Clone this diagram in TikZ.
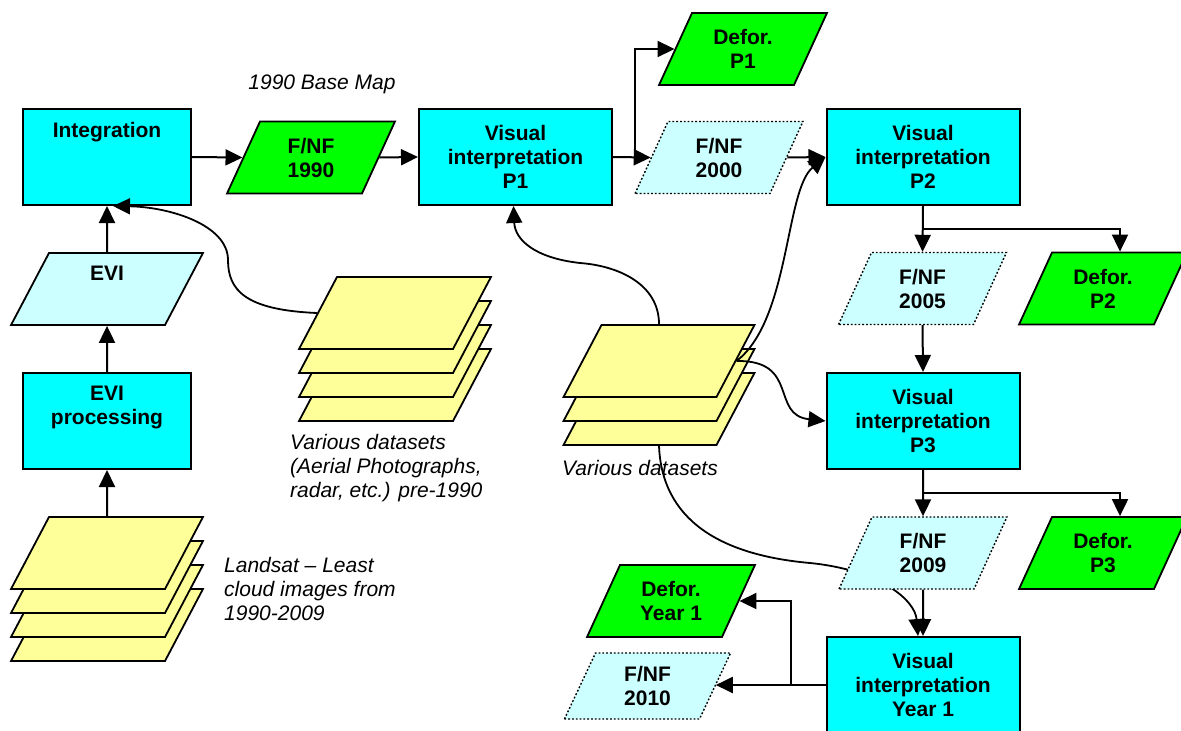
\documentclass[tikz,border=0pt]{standalone}
\usepackage{fontspec}
\setmainfont{Liberation Sans}
\usetikzlibrary{shapes.geometric,arrows.meta}
\definecolor{boxcyan}{HTML}{00FFFF}
\definecolor{fgreen}{HTML}{00FF00}
\definecolor{lcyan}{HTML}{CCFFFF}
\definecolor{lyellow}{HTML}{FFFF99}
\newcommand{\pgbox}[3]{\parbox[c][#2][c]{#1}{\centering\mbox{}#3}}
\begin{document}
\begin{tikzpicture}[x=1pt,y=-1pt,
 lbl/.style={font=\fontsize{21}{24}\selectfont\bfseries, align=center},
 proc/.style={lbl, draw=black, line width=2pt, fill=boxcyan, minimum width=193pt, minimum height=96pt, inner sep=0pt},
 para/.style={font=\fontsize{21}{24}\selectfont\bfseries, trapezium, trapezium left angle=65.4, trapezium right angle=114.6, inner sep=0pt, draw=black, line width=1.8pt},
 wide/.style={trapezium left angle=62.2, trapezium right angle=117.8},
 defor/.style={para, fill=fgreen},
 fnf/.style={para, fill=lcyan, dotted, line width=1.4pt},
 layer/.style={trapezium, wide, inner sep=0pt, draw=black, line width=1.8pt, fill=lyellow},
 note/.style={font=\fontsize{21}{24}\selectfont\itshape, align=left, inner sep=0pt},
 arr/.style={line width=2pt, -{Triangle[length=17pt,width=16pt]}},
 curve/.style={line width=1.8pt, -{Triangle[length=17pt,width=16pt]}},
]
\clip (0,0) rectangle (1181,731);
\fill[white] (0,0) rectangle (1181,731);

% process boxes
\node[proc, minimum width=168pt] (integ) at (107,157) {Integration\\\strut\\\strut};
\node[proc, minimum width=168pt] (evip) at (107,421) {EVI\\processing\\\strut};
\node[proc] (vp1) at (515.5,157) {Visual\\interpretation\\P1};
\node[proc] (vp2) at (923,157) {Visual\\interpretation\\P2};
\node[proc] (vp3) at (923,421) {Visual\\interpretation\\P3};
\node[proc] (vpy1) at (923,685) {Visual\\interpretation\\Year 1};

% data stacks
\node[layer] (land4) at (107,625) {\pgbox{116pt}{72pt}{}};
\node[layer] (land3) at (107,601) {\pgbox{116pt}{72pt}{}};
\node[layer] (land2) at (107,577) {\pgbox{116pt}{72pt}{}};
\node[layer] (land1) at (107,553) {\pgbox{116pt}{72pt}{}};
\node[layer] (pre4) at (395,385) {\pgbox{116pt}{72pt}{}};
\node[layer] (pre3) at (395,361) {\pgbox{116pt}{72pt}{}};
\node[layer] (pre2) at (395,337) {\pgbox{116pt}{72pt}{}};
\node[layer] (pre1) at (395,313) {\pgbox{116pt}{72pt}{}};
\node[layer] (mid3) at (659,409) {\pgbox{115pt}{72pt}{}};
\node[layer] (mid2) at (659,385) {\pgbox{115pt}{72pt}{}};
\node[layer] (mid1) at (659,361) {\pgbox{115pt}{72pt}{}};

% curve passing under F/NF 2009
\draw[curve] (mid3.south) .. controls (662,520) and (720,555) .. (810,563) .. controls (880,570) and (915,600) .. ([xshift=-5pt]vpy1.north);

% data parallelograms
\node[defor] (f1990) at (311,157.5) {\pgbox{102pt}{72pt}{F/NF\\1990}};
\node[fnf] (f2000) at (719,157.5) {\pgbox{102pt}{72pt}{F/NF\\2000}};
\node[defor] (dp1) at (743,49) {\pgbox{102pt}{72pt}{Defor.\\P1}};
\node[para, wide, fill=lcyan] (evi) at (107,289) {\pgbox{116pt}{72pt}{EVI\\\strut}};
\node[fnf] (f2005) at (922.5,288.5) {\pgbox{102pt}{72pt}{F/NF\\2005}};
\node[defor] (dp2) at (1103,288.5) {\pgbox{102pt}{72pt}{Defor.\\P2}};
\node[fnf] (f2009) at (923,553) {\pgbox{102pt}{72pt}{F/NF\\2009}};
\node[defor] (dp3) at (1103,553) {\pgbox{102pt}{72pt}{Defor.\\P3}};
\node[defor] (dy1) at (671,601) {\pgbox{102pt}{72pt}{Defor.\\Year 1}};
\node[fnf, trapezium left angle=64.8, trapezium right angle=115.2] (f2010) at (647.5,686) {\pgbox{104pt}{66pt}{F/NF\\2010}};

% junctions
\coordinate (j1) at (635,157);
\coordinate (j2) at (923,229);
\coordinate (j3) at (923,493);
\coordinate (j4) at (791,685);

% straight connectors
\draw[arr] (land1.north) -- (evip.south);
\draw[arr] (evip.north) -- (evi.south);
\draw[arr] (evi.north) -- (integ.south);
\draw[arr] (integ.east) -- (f1990.left side);
\draw[arr] (f1990.right side) -- (vp1.west);
\draw[arr] (vp1.east) -- (f2000.left side);
\draw[arr] (j1) |- (dp1.left side);
\draw[arr] (f2000.right side) -- (vp2.west);
\draw[arr] (vp2.south) -- (f2005.north);
\draw[arr] (j2) -| ([xshift=17pt]dp2.north);
\draw[arr] (f2005.south) -- (vp3.north);
\draw[arr] (vp3.south) -- (f2009.north);
\draw[arr] (j3) -| ([xshift=17pt]dp3.north);
\draw[arr] (f2009.south) -- (vpy1.north);
\draw[arr] (vpy1.west) -- (f2010.right side |- vpy1.west);
\draw[arr] (j4) |- (dy1.right side);

% curved connectors
\draw[curve] (pre1.left side) .. controls (245,310) and (228,290) .. (228,260) .. controls (228,225) and (170,207) .. ([xshift=6pt]integ.south);
\draw[curve] (mid1.north) .. controls (659,285) and (620,266) .. (580,263) .. controls (535,258) and (515,240) .. ([xshift=-2pt]vp1.south);
\draw[curve] (mid1.right side) .. controls (790,320) and (785,190) .. (vp2.west);
\draw[curve] (mid1.right side) .. controls (800,360) and (770,415) .. (vp3.west);

% notes
\node[note] (basemap) at (322,84) {1990 Base Map};
\node[note, anchor=west] (prenote) at (290,468) {Various datasets\\(Aerial Photographs,\\radar, etc.) pre-1990};
\node[note, anchor=west] (landnote) at (224,589) {Landsat – Least\\cloud images from\\1990-2009};
\node[note, anchor=west] (midnote) at (562,468) {Various datasets};
\end{tikzpicture}
\end{document}
